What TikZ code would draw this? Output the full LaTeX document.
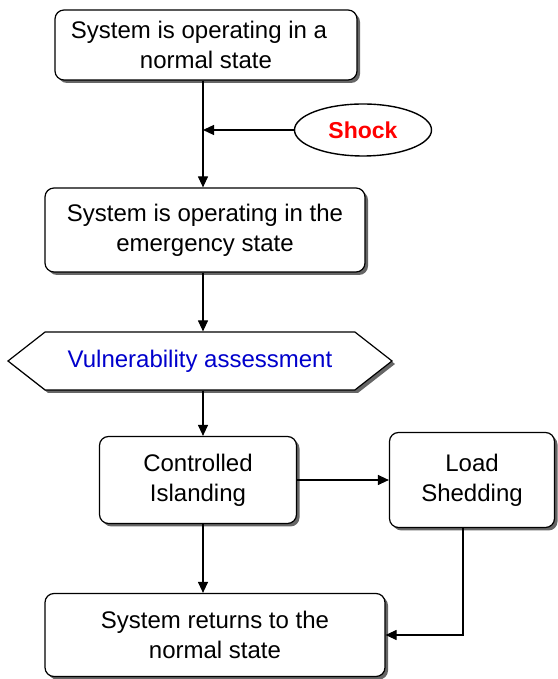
\documentclass[tikz,border=0pt]{standalone}
\usepackage{fontspec}
\setmainfont{Liberation Sans}
\usetikzlibrary{shapes.geometric,shapes.symbols,shadows,arrows.meta}

\tikzset{
  stepbox/.style={draw,line width=1.2pt,rounded corners=9pt,fill=white,align=center,
    drop shadow={shadow xshift=3pt,shadow yshift=-3pt,fill=black!60,opacity=1}},
  arr/.style={line width=1.2pt,-{Triangle[length=11pt,width=10pt]}}
}

\begin{document}
\begin{tikzpicture}[x=1pt,y=1pt,font=\fontsize{24}{30}\selectfont]
\useasboundingbox (0,0) rectangle (557,679);
\node[stepbox,minimum width=302pt,minimum height=70pt] (start) at (206,634) {System is operating in a\hspace*{14pt}\\normal state};
\node[draw,ellipse,line width=1.4pt,minimum width=137pt,minimum height=52pt,text=red,font=\fontsize{23}{28}\selectfont\bfseries] (shock) at (363,549) {Shock};
\node[stepbox,minimum width=320pt,minimum height=84pt] (emerg) at (205,449) {System is operating in the\\emergency state};
\node[signal,signal to=west and east,signal pointer angle=76,draw,line width=1.2pt,fill=white,
  minimum width=384pt,minimum height=58pt,text=blue!80!black,
  drop shadow={shadow xshift=3pt,shadow yshift=-3pt,fill=black!60,opacity=1}] (assess) at (200,318) {Vulnerability assessment};
\node[stepbox,minimum width=197pt,minimum height=87pt] (island) at (198,199) {Controlled\\Islanding};
\node[stepbox,minimum width=165pt,minimum height=95pt] (shed) at (472,199) {Load\\Shedding};
\node[stepbox,minimum width=340pt,minimum height=83pt] (ret) at (215,44) {System returns to the\\normal state};

\coordinate (join) at (203,549);
\draw[arr] (join |- start.south) -- (join |- emerg.north);
\draw[arr] (shock.west) -- (join);
\draw[arr] (join |- emerg.south) -- (join |- assess.north);
\draw[arr] (join |- assess.south) -- (join |- island.north);
\draw[arr] (island.east) -- (shed.west);
\draw[arr] (join |- island.south) -- (join |- ret.north);
\draw[arr] ([xshift=-9pt]shed.south) |- (ret.east);
\end{tikzpicture}
\end{document}
